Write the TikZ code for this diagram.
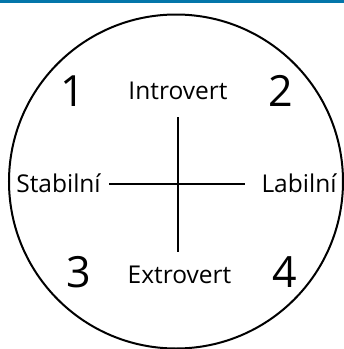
\documentclass[tikz,border=0pt]{standalone}
\usepackage{fontspec}
\setmainfont{Open Sans}
\definecolor{barblue}{RGB}{3,118,170}
\begin{document}
\begin{tikzpicture}[x=1pt,y=-1pt,
  lbl/.style={inner sep=0pt,anchor=base,font=\fontsize{24.5}{26}\selectfont},
  num/.style={inner sep=0pt,anchor=base,font=\fontsize{43}{45}\selectfont},
  axis/.style={line width=2.4pt}]
\useasboundingbox (0,0) rectangle (344,349);
\fill[barblue] (0,0) rectangle (344,3.3);
\node[draw,circle,line width=2pt,minimum size=334pt,inner sep=0pt] (c) at (176,181.5) {};
\coordinate (top) at (178,117);
\coordinate (bot) at (178,252);
\coordinate (lft) at (109,184);
\coordinate (rgt) at (245,184);
\draw[axis] (top) -- (bot);
\draw[axis] (lft) -- (rgt);
\node[lbl] (intro) at (178,99) {Introvert};
\node[lbl] (extro) at (179.5,283.5) {Extrovert};
\node[lbl] (stab) at (58.5,192.5) {Stabilní};
\node[lbl] (lab) at (299,192) {Labilní};
\node[num] (n1) at (73,106.7) {1};
\node[num] (n2) at (281,106.7) {2};
\node[num] (n3) at (78.8,287.7) {3};
\node[num] (n4) at (284.7,287.7) {4};
\end{tikzpicture}
\end{document}
